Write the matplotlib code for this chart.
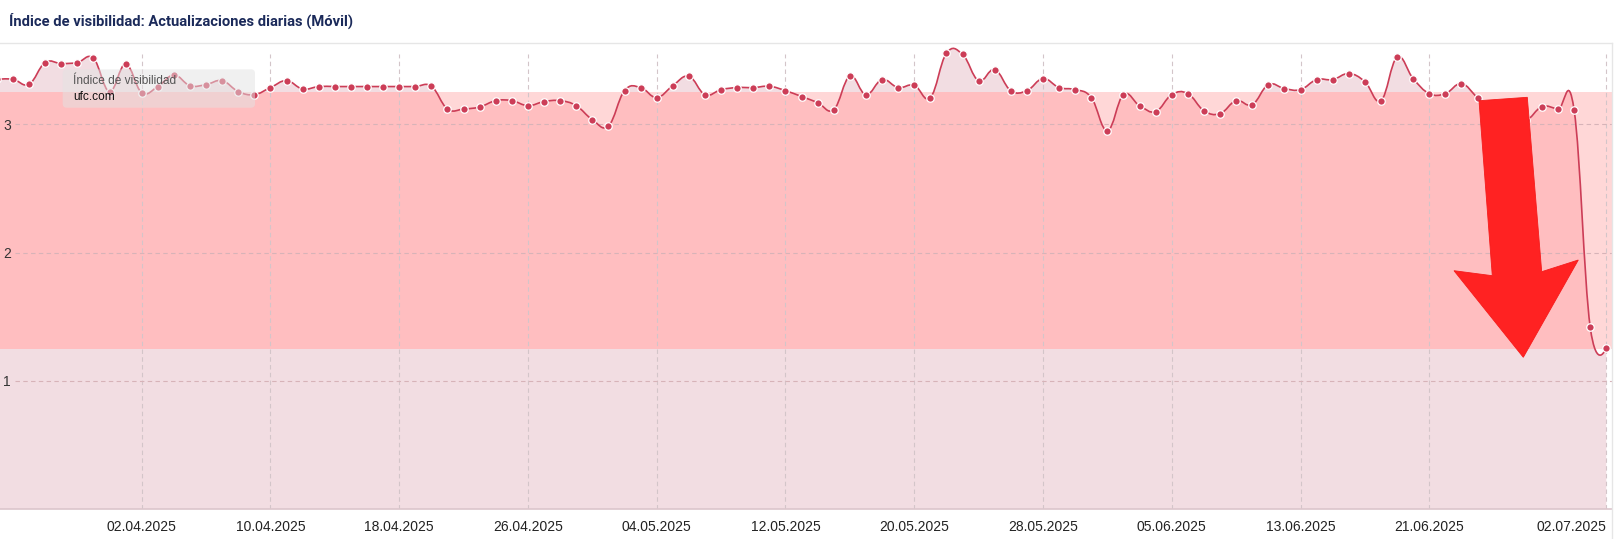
import numpy as np
import pandas as pd
import matplotlib
matplotlib.use("Agg")
import matplotlib.pyplot as plt
import matplotlib.dates as mdates
from matplotlib.path import Path
from matplotlib.patches import PathPatch, Polygon, FancyBboxPatch
from matplotlib.lines import Line2D
from matplotlib.transforms import IdentityTransform

plt.rcParams['font.family'] = ['Liberation Sans', 'DejaVu Sans']

# Índice de visibilidad ufc.com (móvil), un valor por día
march_vals = [3.350, 3.351, 3.312, 3.481, 3.473, 3.481, 3.514, 3.255]          # 24.03 - 31.03
april_vals = [3.468, 3.247, 3.294, 3.384, 3.301, 3.309, 3.340, 3.255, 3.231, 3.286,
              3.340, 3.275, 3.294, 3.294, 3.294, 3.294, 3.294, 3.294, 3.294, 3.296,
              3.119, 3.119, 3.135, 3.184, 3.184, 3.145, 3.177, 3.184, 3.145, 3.036]
may_vals = [2.987, 3.262, 3.286, 3.208, 3.301, 3.374, 3.231, 3.270, 3.286, 3.286,
            3.296, 3.262, 3.216, 3.169, 3.114, 3.374, 3.231, 3.348, 3.286, 3.304,
            3.208, 3.553, 3.545, 3.340, 3.426, 3.262, 3.262, 3.356, 3.286, 3.270,
            3.208]
june_vals = [2.951, 3.231, 3.145, 3.099, 3.231, 3.239, 3.106, 3.083, 3.184, 3.153,
             3.309, 3.278, 3.270, 3.348, 3.348, 3.395, 3.332, 3.184, 3.522, 3.356,
             3.239, 3.239, 3.317, 3.208, 3.120, 3.060, 3.030, 3.137, 3.119, 3.111]
july_vals = [1.42, 1.26]

values = march_vals + april_vals + may_vals + june_vals + july_vals
dates = pd.date_range('2025-03-24', periods=len(values), freq='D')

tick_dates = list(pd.date_range('2025-04-02', '2025-06-21', freq='8D')) + [pd.Timestamp('2025-07-02')]
tick_labels = [d.strftime('%d.%m.%Y') for d in tick_dates]

band_low, band_high = 1.25, 3.25
y_ticks = [1, 2, 3]

line_color = '#cc3d57'


def spline(xs, ys, smoothing=1.5):
    # curva tipo highcharts spline
    n = len(xs)
    lc = np.column_stack([xs, ys]).astype(float)
    rc = lc.copy()
    for i in range(1, n - 1):
        d = smoothing + 1
        lx = (smoothing * xs[i] + xs[i - 1]) / d
        ly = (smoothing * ys[i] + ys[i - 1]) / d
        rx = (smoothing * xs[i] + xs[i + 1]) / d
        ry = (smoothing * ys[i] + ys[i + 1]) / d
        corr = (ry - ly) * (rx - xs[i]) / (rx - lx) + ys[i] - ry
        lc[i] = lx, ly + corr
        rc[i] = rx, ry + corr
    verts = [(xs[0], ys[0])]
    codes = [Path.MOVETO]
    for i in range(1, n):
        verts += [tuple(rc[i - 1]), tuple(lc[i]), (xs[i], ys[i])]
        codes += [Path.CURVE4] * 3
    return verts, codes


fig = plt.figure(figsize=(16.14, 5.39), dpi=100)
ax = fig.add_axes([0, 29.8 / 539, 1612 / 1614, 455.5 / 539])

x = mdates.date2num(dates)
ax.set_xlim(mdates.date2num(pd.Timestamp('2025-04-02')) - 8.804,
            mdates.date2num(pd.Timestamp('2025-07-02')) + 0.354)
ax.set_ylim(0, 3.55)

verts, codes = spline(x, np.array(values))

# banda
ax.axhspan(band_low, band_high, color='#ffd7d7', lw=0, zorder=0.5)
# area bajo la curva
area_verts = verts + [(x[-1], 0), (x[0], 0), (x[0], values[0])]
area_codes = codes + [Path.LINETO, Path.LINETO, Path.CLOSEPOLY]
area = PathPatch(Path(area_verts, area_codes), facecolor='#f2dde2', edgecolor='none',
                 zorder=1, clip_on=False)
ax.add_patch(area)
inner = ax.axhspan(band_low, band_high, color='#ffbec0', lw=0, zorder=1.2)
inner.set_clip_path(area)

# rejilla
ax.set_xticks(mdates.date2num(tick_dates))
ax.set_xticklabels(tick_labels)
ax.get_xticklabels()[-1].set_ha('right')
ax.xaxis.grid(True, color='#d3c5c9', linestyle=(0, (4, 3)), lw=0.8, zorder=2)
for yv in y_ticks:
    ax.axhline(yv, xmin=0.009, color='#d7b3b8', linestyle=(0, (4, 3)), lw=0.8, zorder=2)
ax.set_yticks(y_ticks)
ax.set_yticklabels([str(v) for v in y_ticks])
for lab in ax.get_yticklabels():
    lab.set_ha('left')
ax.tick_params(axis='y', length=0, pad=-2.5, labelsize=10, labelcolor='#333333')
ax.tick_params(axis='x', length=0, pad=8, labelsize=10, labelcolor='#222222')

# linea
line = PathPatch(Path(verts, codes), fill=False, edgecolor=line_color, lw=1.2,
                 zorder=3, clip_on=False)
ax.add_patch(line)
ax.plot(dates, values, 'o', ms=5.4, mfc=line_color, mec='white', mew=0.9,
        zorder=4, clip_on=False)

for s in ['top', 'left', 'right']:
    ax.spines[s].set_visible(False)
ax.spines['bottom'].set_color('#dcc6cc')
ax.spines['bottom'].set_linewidth(1.2)
ax.spines['bottom'].set_zorder(2.6)

# titulo y bordes
fig.text(9 / 1614, 1 - 20.5 / 539, 'Índice de visibilidad: Actualizaciones diarias (Móvil)',
         family=['Roboto', 'DejaVu Sans'], fontweight='bold', fontsize=10.6,
         color='#1b2a5a', va='center', ha='left')
fig.add_artist(Line2D([0, 1612 / 1614], [1 - 43 / 539] * 2, color='#e6e6e6', lw=1))
fig.add_artist(Line2D([1612 / 1614] * 2, [0, 1 - 43 / 539], color='#e6e6e6', lw=1))

# leyenda flotante
box = FancyBboxPatch((62.7, 539 - 107.7), 192.3, 38.4,
                     boxstyle='round,pad=0,rounding_size=4',
                     transform=IdentityTransform(), facecolor=(0.89, 0.89, 0.89),
                     edgecolor='none', alpha=0.5, zorder=5)
fig.add_artist(box)
fig.text(73, 539 - 80.7, 'Índice de visibilidad', transform=IdentityTransform(),
         fontsize=8.6, color='#555555', va='center', ha='left', zorder=6)
fig.text(73, 539 - 96.7, 'ufc.com', transform=IdentityTransform(),
         fontsize=8.6, color='#111111', va='center', ha='left', zorder=6)

# flecha roja
arrow_px = [(1479, 100.7), (1527.3, 97.3), (1541.7, 271.7), (1578.3, 260),
            (1523.3, 357.3), (1454, 270.7), (1492.3, 275.7)]
arrow = Polygon([(px, 539 - py) for px, py in arrow_px], closed=True,
                transform=IdentityTransform(), facecolor='#ff2222',
                edgecolor='#f51c1c', lw=0.6, zorder=7)
fig.add_artist(arrow)

fig.savefig('out.png', dpi=100)
